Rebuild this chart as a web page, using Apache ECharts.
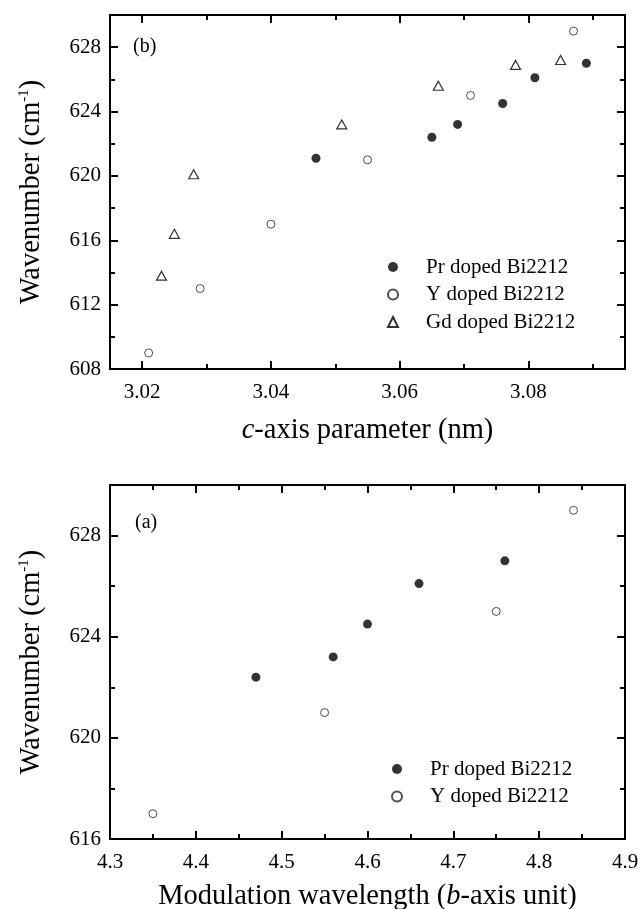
<!DOCTYPE html>
<html>
<head>
<meta charset="utf-8">
<script src="https://cdn.jsdelivr.net/npm/echarts@6/dist/echarts.min.js"></script>
<style>html,body{margin:0;padding:0;background:#fff}#c{width:640px;height:909px}</style>
</head>
<body>
<div id="c"></div>
<script>
// ---- data: top panel (b), c-axis parameter ----
const prC = [3.047, 3.065, 3.069, 3.076, 3.081, 3.089];
const prWaveC = [621.1, 622.4, 623.2, 624.5, 626.1, 627.0];
const yC = [3.021, 3.029, 3.040, 3.055, 3.071, 3.087];
const yWaveC = [609.0, 613.0, 617.0, 621.0, 625.0, 629.0];
const gdC = [3.023, 3.025, 3.028, 3.051, 3.066, 3.078, 3.085];
const gdWaveC = [613.8, 616.4, 620.1, 623.2, 625.6, 626.9, 627.2];
// ---- data: bottom panel (a), modulation wavelength ----
const prB = [4.47, 4.56, 4.60, 4.66, 4.76];
const prWaveB = [622.4, 623.2, 624.5, 626.1, 627.0];
const yB = [4.35, 4.55, 4.75, 4.84];
const yWaveB = [617.0, 621.0, 625.0, 629.0];
// ---- ticks ----
const cTicks = [3.02, 3.04, 3.06, 3.08];
const cMinor = [3.03, 3.05, 3.07, 3.09];
const waveTicksTop = [608, 612, 616, 620, 624, 628];
const waveMinorTop = [610, 614, 618, 622, 626];
const bTicks = [4.3, 4.4, 4.5, 4.6, 4.7, 4.8, 4.9];
const bMinor = [4.35, 4.45, 4.55, 4.65, 4.75, 4.85];
const waveTicksBot = [616, 620, 624, 628];
const waveMinorBot = [618, 622, 626];
const seriesNames = ['Pr doped Bi2212', 'Y doped Bi2212', 'Gd doped Bi2212'];

const FONT = 'Liberation Serif';
const NAME_SIZE = 28.5;
const pair = (xs, ys) => xs.map((x, i) => [x, ys[i]]);

function axes(kind, grid, min, max, majors, minors, fmt, name, nameGap) {
  const posA = kind === 'x' ? 'bottom' : 'left';
  const posB = kind === 'x' ? 'top' : 'right';
  const base = {
    type: 'value', gridIndex: grid, min: min, max: max,
    splitLine: {show: false}
  };
  const line = {show: true, onZero: false, lineStyle: {color: '#000', width: 2}};
  const tick = (vals, len) => ({show: true, inside: true, length: len, customValues: vals,
    lineStyle: {color: '#000', width: 2}});
  const main = Object.assign({}, base, {
    position: posA, axisLine: line, axisTick: tick(majors, 8),
    axisLabel: {show: true, customValues: majors, formatter: fmt, color: '#000',
      fontFamily: FONT, fontSize: 21, margin: kind === 'x' ? 13 : 9},
    name: name, nameLocation: 'middle', nameGap: nameGap,
    nameTextStyle: {color: '#000', fontFamily: FONT, fontSize: NAME_SIZE,
      rich: {
        m: {fontFamily: FONT, fontSize: NAME_SIZE, color: '#000'},
        i: {fontFamily: FONT, fontSize: NAME_SIZE, color: '#000', fontStyle: 'italic'},
        s: {fontFamily: FONT, fontSize: 15, color: '#000', verticalAlign: 'top', padding: [0, 0, 12, 0]}
      }}
  });
  if (kind === 'y') main.nameRotate = 90;
  const mainMinor = Object.assign({}, base, {
    position: posA, axisLine: {show: false}, axisTick: tick(minors, 5), axisLabel: {show: false}
  });
  const opp = Object.assign({}, base, {
    position: posB, axisLine: line, axisTick: tick(majors, 8), axisLabel: {show: false}
  });
  const oppMinor = Object.assign({}, base, {
    position: posB, axisLine: {show: false}, axisTick: tick(minors, 5), axisLabel: {show: false}
  });
  return [main, mainMinor, opp, oppMinor];
}

const yName = '{m|Wavenumber (cm}{s|-1}{m|)}';
const xAxis = [].concat(
  axes('x', 0, 3.015, 3.095, cTicks, cMinor, v => v.toFixed(2), '{i|c}{m|-axis parameter (nm)}', 47),
  axes('x', 1, 4.3, 4.9, bTicks, bMinor, v => v.toFixed(1), '{m|Modulation wavelength (}{i|b}{m|-axis unit)}', 43)
);
const yAxis = [].concat(
  axes('y', 0, 608, 630, waveTicksTop, waveMinorTop, v => String(Math.round(v)), yName, 64),
  axes('y', 1, 616, 630, waveTicksBot, waveMinorBot, v => String(Math.round(v)), yName, 64)
);

const filled = {color: '#000'};
const open = {color: '#fff', borderColor: '#222', borderWidth: 1};
const tri = {color: '#fff', borderColor: '#000', borderWidth: 1.2};

const series = [
  {name: seriesNames[0], type: 'scatter', xAxisIndex: 0, yAxisIndex: 0, symbol: 'circle', symbolSize: 9,
   itemStyle: filled, data: pair(prC, prWaveC)},
  {name: seriesNames[1], type: 'scatter', xAxisIndex: 0, yAxisIndex: 0, symbol: 'circle', symbolSize: 8,
   itemStyle: open, data: pair(yC, yWaveC)},
  {name: seriesNames[2], type: 'scatter', xAxisIndex: 0, yAxisIndex: 0, symbol: 'triangle', symbolSize: [10, 9],
   itemStyle: tri, data: pair(gdC, gdWaveC)},
  {name: seriesNames[0], type: 'scatter', xAxisIndex: 4, yAxisIndex: 4, symbol: 'circle', symbolSize: 9,
   itemStyle: filled, data: pair(prB, prWaveB)},
  {name: seriesNames[1], type: 'scatter', xAxisIndex: 4, yAxisIndex: 4, symbol: 'circle', symbolSize: 8,
   itemStyle: open, data: pair(yB, yWaveB)}
];

const legendBase = {
  orient: 'vertical', itemWidth: 10, itemHeight: 10, itemGap: 5.5,
  selectedMode: false,
  textStyle: {fontFamily: FONT, fontSize: 21, color: '#000', lineHeight: 22, padding: [0, 0, 0, 23]}
};

const option = {
  animation: false,
  backgroundColor: '#fff',
  grid: [
    {left: 110, top: 15, width: 515, height: 354, containLabel: false, outerBoundsMode: 'none'},
    {left: 110, top: 485, width: 515, height: 354, containLabel: false, outerBoundsMode: 'none'}
  ],
  xAxis: xAxis,
  yAxis: yAxis,
  legend: [
    Object.assign({}, legendBase, {left: 382, top: 251, data: seriesNames}),
    Object.assign({}, legendBase, {left: 386, top: 753, data: seriesNames.slice(0, 2)})
  ],
  graphic: [
    {type: 'text', left: 133, top: 37, style: {text: '(b)', fontFamily: FONT, fontSize: 20, fill: '#000'}},
    {type: 'text', left: 135, top: 513, style: {text: '(a)', fontFamily: FONT, fontSize: 20, fill: '#000'}}
  ],
  series: series
};

echarts.init(document.getElementById('c'), null, {renderer: 'canvas'}).setOption(option);
</script>
</body>
</html>
